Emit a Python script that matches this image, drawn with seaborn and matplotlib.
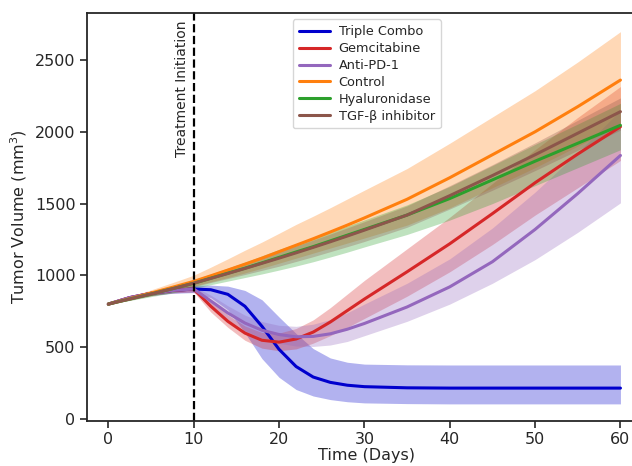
import numpy as np
import pandas as pd
import matplotlib
matplotlib.use('Agg')
import matplotlib.pyplot as plt
import seaborn as sns

# days
days = [0, 2.5, 5, 7.5, 10, 12, 14, 16, 18, 20, 22, 24, 26, 28, 30, 35, 40, 45, 50, 55, 60]

triple_mean = [800, 845, 875, 895, 905, 900, 868, 785, 645, 485, 365, 292, 255, 235, 225, 217, 215, 215, 215, 215, 215]
triple_hi = [800, 855, 890, 915, 930, 932, 925, 895, 830, 710, 595, 490, 425, 395, 382, 377, 376, 376, 376, 376, 376]
triple_lo = [800, 835, 860, 875, 880, 845, 760, 600, 420, 290, 205, 160, 135, 120, 112, 107, 105, 105, 105, 105, 105]

gem_mean = [800, 845, 875, 895, 905, 785, 680, 598, 548, 535, 557, 605, 675, 755, 835, 1025, 1220, 1430, 1645, 1845, 2035]
gem_hi = [800, 855, 890, 912, 925, 825, 725, 648, 602, 598, 630, 690, 775, 870, 965, 1185, 1405, 1640, 1875, 2100, 2315]
gem_lo = [800, 835, 860, 878, 885, 745, 638, 548, 493, 475, 488, 528, 580, 638, 700, 855, 1025, 1215, 1420, 1610, 1800]

pd1_mean = [800, 845, 875, 895, 905, 822, 738, 668, 618, 588, 572, 575, 593, 625, 665, 780, 920, 1095, 1320, 1570, 1835]
pd1_hi = [800, 855, 890, 912, 925, 862, 788, 723, 678, 652, 645, 660, 692, 740, 800, 945, 1115, 1330, 1580, 1855, 2150]
pd1_lo = [800, 835, 860, 878, 885, 782, 692, 617, 562, 527, 508, 505, 515, 540, 580, 680, 800, 945, 1110, 1300, 1505]

ctrl_mean = [800, 838, 877, 917, 958, 997, 1037, 1078, 1120, 1165, 1210, 1255, 1302, 1350, 1400, 1530, 1680, 1840, 2000, 2175, 2360]
ctrl_hi = [800, 851, 899, 949, 1001, 1057, 1115, 1175, 1232, 1293, 1355, 1412, 1471, 1532, 1593, 1744, 1920, 2103, 2286, 2486, 2697]
ctrl_lo = [800, 827, 860, 893, 925, 955, 985, 1017, 1050, 1085, 1120, 1155, 1190, 1225, 1260, 1350, 1470, 1610, 1750, 1900, 2050]

hya_mean = [800, 835, 870, 907, 945, 980, 1015, 1050, 1087, 1125, 1163, 1200, 1240, 1280, 1320, 1420, 1535, 1665, 1795, 1920, 2045]
hya_hi = [800, 843, 883, 925, 969, 1009, 1051, 1092, 1136, 1181, 1221, 1260, 1302, 1344, 1386, 1491, 1619, 1765, 1912, 2054, 2198]
hya_lo = [800, 825, 852, 878, 908, 935, 960, 985, 1010, 1037, 1065, 1095, 1128, 1162, 1198, 1285, 1385, 1500, 1625, 1750, 1875]

tgf_mean = [800, 835, 870, 907, 945, 979, 1013, 1048, 1084, 1120, 1157, 1195, 1234, 1274, 1315, 1420, 1555, 1695, 1840, 1990, 2140]
tgf_hi = [800, 842, 880, 922, 964, 1002, 1041, 1082, 1123, 1165, 1206, 1246, 1288, 1331, 1374, 1484, 1625, 1771, 1923, 2080, 2236]
tgf_lo = [800, 827, 857, 889, 921, 950, 978, 1006, 1035, 1064, 1097, 1130, 1165, 1200, 1236, 1335, 1462, 1593, 1730, 1871, 2012]

groups = ['Triple Combo', 'Gemcitabine', 'Anti-PD-1', 'Control', 'Hyaluronidase', 'TGF-β inhibitor']
colors = ['mediumblue', 'tab:red', 'tab:purple', 'tab:orange', 'tab:green', 'tab:brown']
series = [(triple_mean, triple_lo, triple_hi), (gem_mean, gem_lo, gem_hi),
          (pd1_mean, pd1_lo, pd1_hi), (ctrl_mean, ctrl_lo, ctrl_hi),
          (hya_mean, hya_lo, hya_hi), (tgf_mean, tgf_lo, tgf_hi)]

sns.set_style('ticks')
plt.rcParams['font.family'] = ['DejaVu Sans']

fig = plt.figure(figsize=(6.32, 4.66), dpi=100)
ax = fig.add_axes([0.137, 0.0966, 0.8866, 0.8755])

for name, col, (m, lo, hi) in zip(groups, colors, series):
    ax.fill_between(days, lo, hi, color=col, alpha=0.3, linewidth=0)
    df = pd.DataFrame({'Day': days, 'Volume': m})
    sns.lineplot(data=df, x='Day', y='Volume', color=col, linewidth=2.2, label=name, ax=ax)

ax.axvline(10, color='black', linestyle='--', linewidth=1.6)
ax.text(8.6, 2300, 'Treatment Initiation', rotation=90, ha='center', va='center', fontsize=10)

ax.set_xlim(-2.55, 63.1)
ax.set_ylim(-14, 2827)
ax.set_xticks([0, 10, 20, 30, 40, 50, 60])
ax.set_yticks([0, 500, 1000, 1500, 2000, 2500])
ax.tick_params(labelsize=11.5, length=5, width=1.2, pad=3)
ax.set_xlabel('Time (Days)', fontsize=11.5, labelpad=1)
ax.set_ylabel('Tumor Volume (mm$^3$)', fontsize=11.5)
for s in ax.spines.values():
    s.set_linewidth(1.3)
ax.spines['right'].set_visible(False)

ax.legend(loc='upper center', fontsize=9.3, labelspacing=0.3, handlelength=2.4,
          handletextpad=0.7, borderpad=0.45, frameon=True)

fig.savefig('out.png', dpi=100)
